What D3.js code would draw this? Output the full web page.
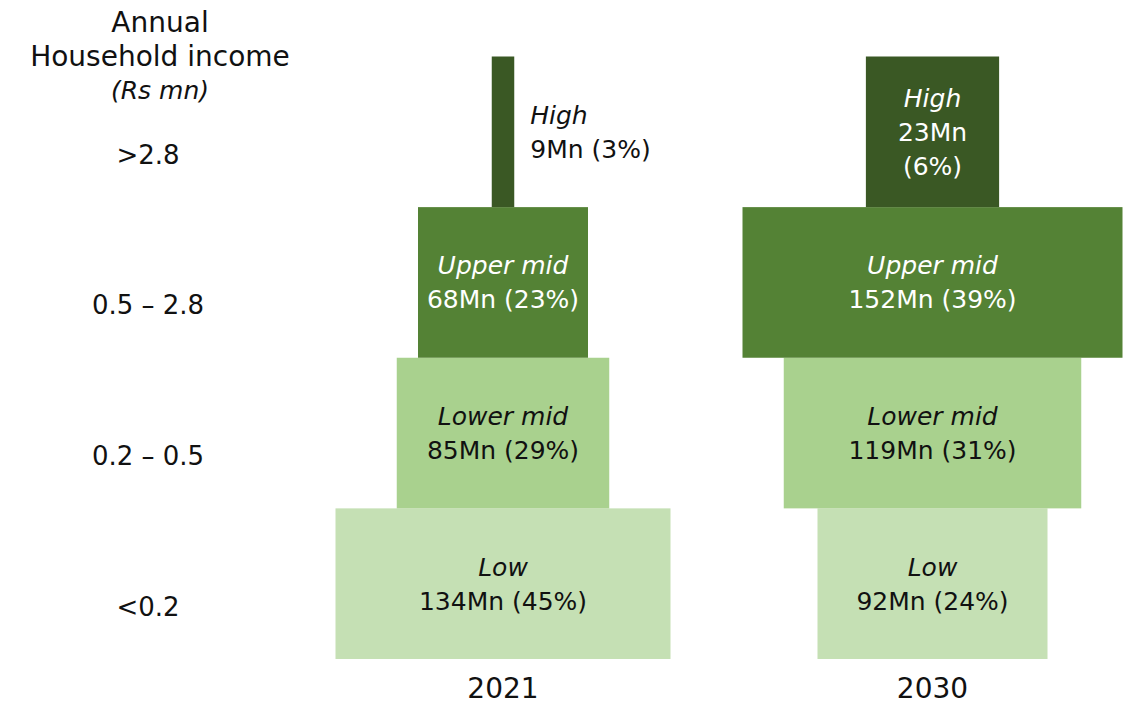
<!DOCTYPE html>
<html>
<head>
<meta charset="utf-8">
<script src="https://cdn.jsdelivr.net/npm/d3@7"></script>
<style>
  html, body { margin: 0; padding: 0; background: #ffffff; }
  svg { display: block; font-family: "DejaVu Sans", sans-serif; }
</style>
</head>
<body>
<svg id="chart" width="1127" height="707"></svg>
<script>
// ---- data ----
const categories = ["High", "Upper mid", "Lower mid", "Low"];
const incomeBands = [">2.8", "0.5 \u2013 2.8", "0.2 \u2013 0.5", "<0.2"];
const years = ["2021", "2030"];
const households2021 = [9, 68, 85, 134];   // Mn
const households2030 = [23, 152, 119, 92]; // Mn
const share2021 = [3, 23, 29, 45];          // %
const share2030 = [6, 39, 31, 24];          // %
const titleLines = ["Annual", "Household income"];
const titleUnit = "(Rs mn)";

// ---- styles ----
const fills = ["#3a5824", "#548235", "#a9d18e", "#c5e0b4"];
const textFills = ["#ffffff", "#ffffff", "#111111", "#111111"];
const FONT = 25, LINE_H = 34, PAD = 32;

const svg = d3.select("#chart");

const yScale = d3.scaleBand().domain(categories).range([56.5, 659]).paddingInner(0).paddingOuter(0);
const colX = d3.scalePoint().domain(years).range([503, 932.5]);
const wScale = d3.scaleLinear().domain([0, 152]).range([0, 380]);

const tmp = svg.append("text").attr("font-size", FONT);
function textW(s, italic) {
  tmp.attr("font-style", italic ? "italic" : "normal").text(s);
  return tmp.node().getComputedTextLength();
}

const seriesByYear = {
  "2021": { values: households2021, shares: share2021 },
  "2030": { values: households2030, shares: share2030 }
};

years.forEach(yr => {
  const s = seriesByYear[yr];
  const cx = colX(yr);
  const rows = categories.map((c, i) => ({ cat: c, i, v: s.values[i], p: s.shares[i] }));
  rows.forEach(r => {
    let w = wScale(r.v);
    const l2 = `${r.v}Mn (${r.p}%)`;
    let lines, outside = false;
    if (w < 40) {
      outside = true;
      lines = [r.cat, l2];
    } else if (w < textW(l2) / 1.5) {
      lines = [r.cat, `${r.v}Mn`, `(${r.p}%)`];
      const mw = d3.max(lines, (t, k) => textW(t, k === 0));
      w = Math.max(w, mw + 2 * PAD);
    } else {
      lines = [r.cat, l2];
    }
    r.w = w; r.lines = lines; r.outside = outside;
  });

  const g = svg.append("g");
  g.selectAll("rect").data(rows.slice().reverse()).join("rect")
    .attr("x", d => cx - d.w / 2)
    .attr("y", d => yScale(d.cat))
    .attr("width", d => d.w)
    .attr("height", yScale.bandwidth())
    .attr("fill", d => fills[d.i]);

  rows.forEach(r => {
    const cy = yScale(r.cat) + yScale.bandwidth() / 2;
    const n = r.lines.length;
    const first = cy + 9 - (n - 1) / 2 * LINE_H;
    const t = g.append("text")
      .attr("font-size", FONT)
      .attr("fill", r.outside ? "#111111" : textFills[r.i])
      .attr("text-anchor", r.outside ? "start" : "middle");
    r.lines.forEach((ln, k) => {
      t.append("tspan")
        .attr("x", r.outside ? cx + r.w / 2 + 16 : cx)
        .attr("y", first + k * LINE_H)
        .attr("font-style", k === 0 ? "italic" : "normal")
        .text(ln);
    });
  });

  svg.append("text")
    .attr("x", cx).attr("y", 698)
    .attr("text-anchor", "middle")
    .attr("font-size", 28)
    .attr("fill", "#111111")
    .text(yr);
});
tmp.remove();

// left axis labels (income bands)
svg.append("g").selectAll("text").data(categories).join("text")
  .attr("x", 148)
  .attr("y", d => yScale(d) + yScale.bandwidth() / 2 + 32)
  .attr("text-anchor", "middle")
  .attr("font-size", 26)
  .attr("fill", "#111111")
  .text((d, i) => incomeBands[i]);

// title
const title = svg.append("text").attr("text-anchor", "middle").attr("fill", "#111111").attr("font-size", 28);
title.append("tspan").attr("x", 160).attr("y", 32).text(titleLines[0]);
title.append("tspan").attr("x", 160).attr("y", 66).text(titleLines[1]);
svg.append("text").attr("x", 160).attr("y", 99).attr("text-anchor", "middle")
  .attr("font-size", 25).attr("font-style", "italic").attr("fill", "#111111").text(titleUnit);
</script>
</body>
</html>
